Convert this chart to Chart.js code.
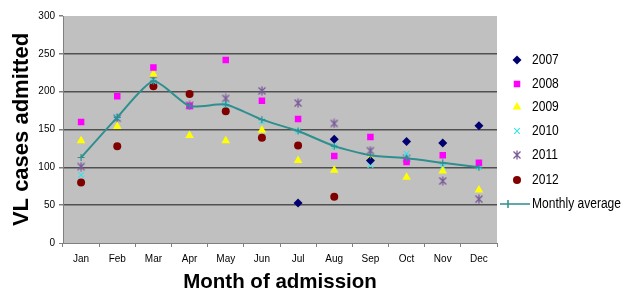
<!DOCTYPE html>
<html>
<head>
<meta charset="utf-8">
<script src="https://cdn.jsdelivr.net/npm/chart.js@4/dist/chart.umd.min.js"></script>
<style>
  html, body { margin: 0; padding: 0; background: #ffffff; }
  #wrap { width: 623px; height: 291px; position: relative; }
</style>
</head>
<body>
<div id="wrap"><canvas id="c" width="623" height="291"></canvas></div>
<script>
const months = ['Jan', 'Feb', 'Mar', 'Apr', 'May', 'Jun', 'Jul', 'Aug', 'Sep', 'Oct', 'Nov', 'Dec'];
const yTicks = [0, 50, 100, 150, 200, 250, 300];
const seriesNames = ['2007', '2008', '2009', '2010', '2011', '2012', 'Monthly average'];
const v2007 = [null, null, null, null, null, null, 53, 137, 109, 134, 132, 155];
const v2008 = [160, 194, 232, 181, 242, 188, 164, 115, 140, 107, 116, 106];
const v2009 = [135, 154, 223, 142, 135, 149, 109, 96, 112, 87, 95, 70];
const v2010 = [90, 167, 214, 180, 183, 161, 148, 128, 103, 118, 101, 100];
const v2011 = [101, 165, 216, 182, 191, 201, 185, 158, 122, 112, 82, 58];
const v2012 = [80, 128, 207, 197, 174, 139, 129, 61, null, null, null, null];
const vAvg = [113, 166, 214, 181, 183, 163, 148, 128, 116, 112, 106, 100];

function makeAsterisk(color) {
  const c = document.createElement('canvas');
  c.width = 10; c.height = 10;
  const g = c.getContext('2d');
  g.strokeStyle = color;
  g.lineWidth = 1.3;
  g.beginPath();
  g.moveTo(1.5, 1.5); g.lineTo(8.5, 8.5);
  g.moveTo(8.5, 1.5); g.lineTo(1.5, 8.5);
  g.moveTo(5, 0.5); g.lineTo(5, 9.5);
  g.stroke();
  return c;
}

const styles = [
  { color: '#000070', point: 'rectRot', r: 4.5 },
  { color: '#ff00ff', point: 'rect', r: 4.6 },
  { color: '#ffff00', point: 'triangle', r: 5 },
  { color: '#40e0e8', point: 'crossRot', r: 4 },
  { color: '#7a5a9a', point: makeAsterisk('#7a5a9a'), r: 5 },
  { color: '#800000', point: 'circle', r: 4 },
  { color: '#2f8f8f', point: 'cross', r: 3.5 }
];
const values = [v2007, v2008, v2009, v2010, v2011, v2012, vAvg];

const datasets = values.map((vals, i) => {
  const s = styles[i];
  const isLine = i === 6;
  const stroked = (s.point === 'crossRot' || s.point === 'cross');
  return {
    label: seriesNames[i],
    data: vals,
    showLine: isLine,
    borderColor: s.color,
    backgroundColor: s.color,
    borderWidth: isLine ? 2 : 0,
    pointStyle: s.point,
    pointRadius: s.r,
    pointBorderWidth: stroked ? 1.2 : 0,
    pointBorderColor: s.color,
    pointBackgroundColor: s.color,
    tension: isLine ? 0.2 : 0,
    order: isLine ? 0 : 1
  };
});

const plotBg = {
  id: 'plotBg',
  beforeDraw(chart) {
    const { ctx, chartArea: a } = chart;
    ctx.save();
    ctx.fillStyle = '#c0c0c0';
    ctx.fillRect(a.left, a.top, a.right - a.left, a.bottom - a.top);
    ctx.restore();
  }
};

const customLegend = {
  id: 'customLegend',
  afterDraw(chart) {
    const { ctx } = chart;
    const yPos = [60, 84, 107, 131, 155, 180, 204];
    const mx = 517, tx = 532;
    const sx = 0.86;
    ctx.save();
    ctx.font = '14px "Liberation Sans", Arial, sans-serif';
    ctx.textBaseline = 'middle';
    seriesNames.forEach((name, i) => {
      const s = styles[i];
      const y = yPos[i];
      if (i === 6) {
        ctx.strokeStyle = s.color;
        ctx.lineWidth = 1.5;
        ctx.beginPath();
        ctx.moveTo(500, y); ctx.lineTo(530, y);
        ctx.moveTo(508, y - 4); ctx.lineTo(508, y + 4);
        ctx.stroke();
      } else {
        ctx.fillStyle = s.color;
        ctx.strokeStyle = s.color;
        ctx.lineWidth = 1.2;
        Chart.helpers.drawPoint(ctx, {
          pointStyle: s.point,
          radius: s.r,
          borderWidth: (s.point === 'crossRot') ? 1.2 : 0,
          rotation: 0
        }, mx, y);
      }
      ctx.save();
      ctx.translate(tx, y);
      ctx.scale(sx, 1);
      ctx.fillStyle = '#000000';
      ctx.fillText(name, 0, 0);
      ctx.restore();
    });
    ctx.restore();
  }
};

new Chart(document.getElementById('c'), {
  type: 'line',
  data: { labels: months, datasets: datasets },
  options: {
    responsive: false,
    animation: false,
    devicePixelRatio: 1,
    layout: { padding: { top: 16, right: 126, bottom: 0, left: 0 } },
    plugins: {
      legend: { display: false },
      tooltip: { enabled: false }
    },
    scales: {
      x: {
        type: 'category',
        offset: true,
        grid: { offset: true, drawOnChartArea: false, drawTicks: true, tickLength: 4, color: '#808080', lineWidth: 1 },
        border: { display: true, color: '#808080', width: 1 },
        ticks: { color: '#000000', font: { family: '"Liberation Sans", Arial, sans-serif', size: 10 }, padding: 6, maxRotation: 0, autoSkip: false },
        title: {
          display: true,
          text: 'Month of admission',
          color: '#000000',
          font: { family: '"Liberation Sans", Arial, sans-serif', size: 20.5, weight: 'bold', lineHeight: 1 },
          padding: { top: 0, bottom: -2 }
        },
        afterFit(scale) { scale.height = 48; }
      },
      y: {
        min: 0,
        max: 300,
        afterBuildTicks(scale) { scale.ticks = yTicks.map(v => ({ value: v })); },
        grid: {
          drawTicks: true,
          tickLength: 4,
          lineWidth: (ctx) => (ctx.tick && ctx.tick.value === 0) ? 1 : 1.5,
          color: (ctx) => {
            if (!ctx.tick) return '#505050';
            if (ctx.tick.value === 300) return 'rgba(0,0,0,0)';
            if (ctx.tick.value === 0) return '#808080';
            return '#505050';
          },
          tickColor: '#808080'
        },
        border: { display: true, color: '#808080', width: 1 },
        ticks: { color: '#000000', font: { family: '"Liberation Sans", Arial, sans-serif', size: 10 }, padding: 4 },
        title: {
          display: true,
          text: 'VL cases admitted',
          color: '#000000',
          font: { family: '"Liberation Sans", Arial, sans-serif', size: 22, weight: 'bold', lineHeight: 1.2 },
          padding: { top: 9, bottom: 0 }
        },
        afterFit(scale) { scale.width = 63; }
      }
    }
  },
  plugins: [plotBg, customLegend]
});
</script>
</body>
</html>
